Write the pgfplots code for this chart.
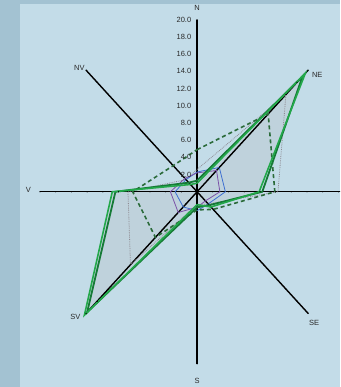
\documentclass[border=0pt]{standalone}
\usepackage{fontspec}
\setmainfont{Liberation Sans}
\usepackage{pgfplots}
\pgfplotsset{compat=1.18}

\definecolor{outerbg}{HTML}{A3C2D2}
\definecolor{innerbg}{HTML}{C3DCE8}
\definecolor{grnA}{HTML}{22A84A}
\definecolor{grnB}{HTML}{157A36}
\definecolor{grnD}{HTML}{2B6B3A}
\definecolor{grayS}{HTML}{8E8A92}
\definecolor{blueS}{HTML}{3D6FD1}
\definecolor{purpS}{HTML}{7B52A8}
\definecolor{labc}{HTML}{2A2A2A}

\begin{document}
\begin{tikzpicture}[
    spoke/.style={black, line width=1.4pt},
    ticklab/.style={anchor=east, font=\fontsize{7.5}{8}\selectfont, text=labc, inner sep=1pt},
    dirlab/.style={font=\fontsize{7.5}{9}\selectfont, text=labc, inner sep=0pt},
]
\begin{axis}[
    scale only axis,
    width=340pt, height=387pt,
    xmin=-25.1, xmax=18.2,
    ymin=-22.7, ymax=22.3,
    hide axis,
]
% background
\fill[outerbg] (axis cs:-25.1,-22.7) rectangle (axis cs:18.2,22.3);
\fill[innerbg] (axis cs:-22.55,-22.7) rectangle (axis cs:18.2,21.8);

% filled area of the widest series
\addplot[draw=none, fill=gray!60, fill opacity=0.22, data cs=polar] coordinates {
  (90,1.0) (45,19.5) (0,7.9) (-45,2.5) (-90,1.5) (-135,20.3) (180,10.8) (135,1.2) (90,1.0)};

% spokes with tick dots
\pgfplotsinvokeforeach{0,45,90,135,180,225,270,315}{
  \addplot[spoke, data cs=polar] coordinates {(#1,0) (#1,20)};
  \addplot[only marks, mark=*, mark size=0.35pt, black, data cs=polar] coordinates {
    (#1,2) (#1,4) (#1,6) (#1,8) (#1,10) (#1,12) (#1,14) (#1,16) (#1,18) (#1,20)};
}

% series
\addplot[grayS, line width=0.8pt, densely dotted, data cs=polar] coordinates {
  (90,2.6) (45,16.0) (0,10.3) (-45,2.0) (-90,1.5) (-135,12.0) (180,8.8) (135,2.0) (90,2.6)};
\addplot[blueS, line width=0.8pt, data cs=polar] coordinates {
  (90,2.3) (45,4.0) (0,3.6) (-45,2.0) (-90,2.2) (-135,2.5) (180,2.8) (135,2.0) (90,2.3)};
\addplot[purpS, line width=0.8pt, data cs=polar] coordinates {
  (90,2.2) (45,3.5) (0,2.9) (-45,1.5) (-90,1.8) (-135,3.4) (180,3.4) (135,2.2) (90,2.2)};
\addplot[grnD, line width=1.6pt, dash pattern=on 4pt off 3pt, data cs=polar] coordinates {
  (90,4.9) (45,12.8) (0,9.9) (-45,2.9) (-90,2.1) (-135,7.5) (180,8.2) (135,4.3) (90,4.9)};
\addplot[grnB, line width=1.8pt, data cs=polar] coordinates {
  (90,1.3) (45,19.0) (0,8.3) (-45,2.2) (-90,1.8) (-135,19.8) (180,10.4) (135,1.5) (90,1.3)};
\addplot[grnA, line width=1.6pt, data cs=polar] coordinates {
  (90,1.0) (45,19.5) (0,7.9) (-45,2.5) (-90,1.5) (-135,20.3) (180,10.8) (135,1.2) (90,1.0)};

% value labels on the N spoke
\pgfplotsinvokeforeach{2.0,4.0,6.0,8.0,10.0,12.0,14.0,16.0,18.0,20.0}{
  \node[ticklab] at (axis cs:-0.6,#1) {#1};
}

% direction labels
\node[dirlab] at (axis cs:0,21.4) {N};
\node[dirlab] at (axis cs:15.3,13.6) {NE};
\node[dirlab] at (axis cs:14.9,-15.3) {SE};
\node[dirlab] at (axis cs:0,-22.0) {S};
\node[dirlab] at (axis cs:-15.5,-14.5) {SV};
\node[dirlab] at (axis cs:-21.5,0.2) {V};
\node[dirlab] at (axis cs:-15.0,14.4) {NV};
\end{axis}
\end{tikzpicture}
\end{document}
